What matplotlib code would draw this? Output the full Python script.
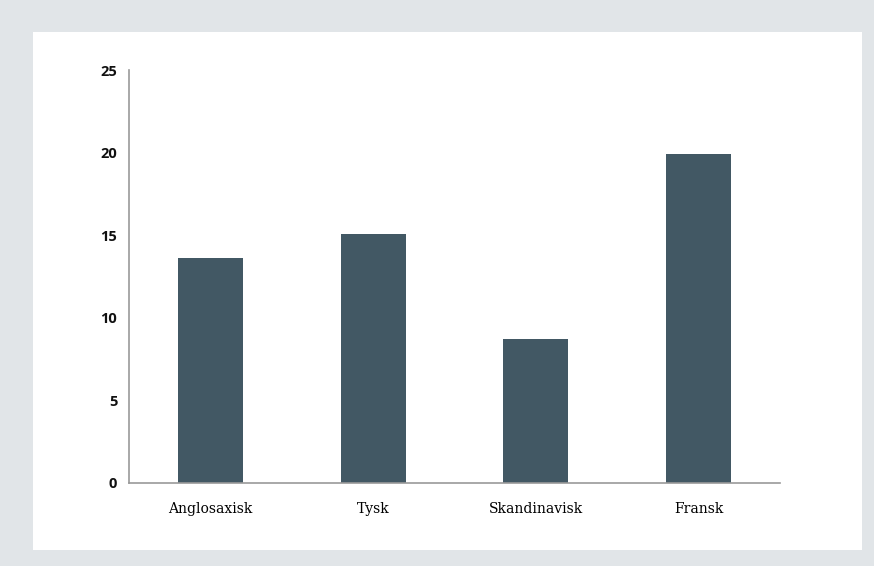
import matplotlib
matplotlib.use('Agg')
import matplotlib.pyplot as plt
from matplotlib.patches import Rectangle

categories = ['Anglosaxisk', 'Tysk', 'Skandinavisk', 'Fransk']
values = [13.6, 15.1, 8.7, 19.9]
yticks = [0, 5, 10, 15, 20, 25]

bar_colour = '#425864'
bg_colour = '#e1e5e8'

fig = plt.figure(figsize=(8.74, 5.66), dpi=100)
fig.patch.set_facecolor(bg_colour)

# white card behind the chart
fig.patches.append(Rectangle((33 / 874, 1 - 550 / 566), (862 - 33) / 874, (550 - 32) / 566,
                             transform=fig.transFigure, facecolor='white', edgecolor='none', zorder=-10))

ax = fig.add_axes([129 / 874, 1 - 483 / 566, (780 - 129) / 874, (483 - 70) / 566])
ax.set_facecolor('none')

x = range(len(categories))
ax.bar(x, values, width=0.4, color=bar_colour, zorder=2)

ax.set_xlim(-0.5, len(categories) - 0.5)
ax.set_ylim(0, 25)
ax.set_yticks(yticks)
ax.set_yticklabels([str(t) for t in yticks], family='Open Sans', fontsize=10.5,
                   fontweight='bold', color='#111111')
ax.set_xticks(list(x))
ax.set_xticklabels(categories, family='DejaVu Serif', fontsize=10, color='#000000')

ax.tick_params(axis='y', length=0, pad=8.5)
ax.tick_params(axis='x', length=0, pad=14)

for side in ['top', 'right']:
    ax.spines[side].set_visible(False)
for side in ['left', 'bottom']:
    ax.spines[side].set_color('#999999')
    ax.spines[side].set_linewidth(1.2)

fig.savefig('out.png', dpi=100, facecolor=fig.get_facecolor())
